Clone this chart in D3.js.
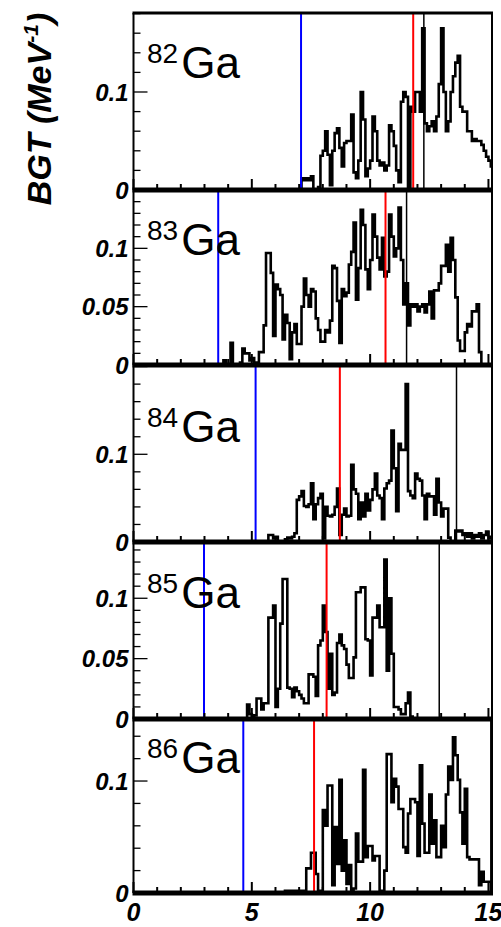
<!DOCTYPE html>
<html>
<head>
<meta charset="utf-8">
<script src="https://cdn.jsdelivr.net/npm/d3@7"></script>
<style>
body { margin: 0; background: #fff; }
text { font-family: "Liberation Sans", Arial, sans-serif; }
</style>
</head>
<body>
<script>
// B(GT) strength per 0.1 MeV bin, one array per isotope, starting at firstBin
var isotopes = ["82", "83", "84", "85", "86"];
var binWidth = 0.1;
var nBins = 152;
var firstBin = [71, 38, 57, 48, 64];
var bgt82 = [0.012,0.010,0.012,0.010,0.014,0,0,0.003,0.035,0.04,0.06,0.036,0.005,0.04,0.058,0.063,0.043,0.024,0.048,0.05,
  0.05,0.077,0.018,0.012,0.03,0.1,0.072,0.014,0.022,0.03,0.075,0.06,0.03,0.025,0.028,0.02,0.025,0.066,0.06,0.045,
  0.02,0.008,0.09,0.1,0.095,0.0,0.085,0.08,0.1,0.1,0.08,0.165,0.068,0.06,0.065,0.07,0.06,0.075,0.108,0.165,
  0.1,0.06,0.07,0.1,0.116,0.13,0.137,0.085,0.08,0.08,0.06,0.06,0.05,0.052,0.05,0.05,0.046,0.04,0.034,0.03,0.024];
var bgt83 = [0.004,0,0,0.019,0,0,0,0.002,0.014,0.01,0.01,0.004,0.006,0,0.002,0.011,0.011,0.034,0.096,0.096,
  0.079,0.025,0.069,0.065,0.06,0.022,0.043,0.036,0.005,0.028,0.035,0.018,0.018,0.05,0.074,0.06,0.05,0.065,0.063,0.04,
  0.03,0.02,0.02,0.03,0.028,0.038,0.085,0.083,0.055,0.019,0.065,0.059,0.062,0.086,0.097,0.122,0.056,0.083,0.133,0.12,
  0.082,0.065,0.09,0.129,0.11,0.092,0.082,0.109,0.076,0.08,0.129,0.11,0.093,0.1,0.135,0.09,0.052,0.07,0.034,0.052,
  0.05,0.052,0.046,0.05,0.052,0.045,0.052,0.063,0.04,0.064,0.064,0.07,0.085,0.085,0.103,0.08,0.109,0.09,0.058,0.021,
  0.012,0.012,0.028,0.035,0.033,0.046,0.046,0.052,0.011];
var bgt84 = [0.008,0.008,0.004,0.006,0,0,0,0.003,0.005,0.004,0.006,0.01,0.048,0.052,0.058,0.041,0.04,0.043,0.067,0.026,
  0.043,0.05,0.055,0.004,0.04,0.03,0.029,0.031,0.04,0.061,0.008,0.031,0.038,0.029,0.03,0.088,0.06,0.055,0.026,0.045,
  0.029,0.055,0.036,0.048,0.06,0.078,0.053,0.05,0.026,0.061,0.067,0.07,0.127,0.084,0.035,0.112,0.105,0.105,0.18,0.058,
  0.053,0.05,0.078,0.072,0.07,0.053,0.026,0.055,0.052,0.052,0.031,0.072,0.045,0.029,0.038,0.038,0.005,0,0,0.013,
  0.012,0.013,0.008,0.01,0.006,0.01,0.004,0.008,0.006,0.01,0.004,0.008,0.012,0.004,0.006];
var bgt85 = [0.012,0.004,0,0.003,0.017,0.017,0.008,0.013,0.013,0.084,0.084,0.094,0.01,0.025,0.079,0.116,0.116,0.026,0.025,0.018,
  0.026,0.023,0.02,0.017,0.013,0.013,0.037,0.037,0.035,0.019,0.061,0.065,0.094,0.072,0.025,0.054,0.02,0.022,0.063,0.07,
  0.061,0.058,0.045,0.034,0.034,0.051,0.105,0.105,0.109,0.109,0.066,0.065,0.036,0.084,0.084,0.094,0.076,0.076,0.132,0.04,
  0.1,0.054,0.01,0.01,0.008,0.004,0.004,0.013,0.022,0.002];
var bgt86 = [0.002,0,0.002,0.002,0,0.002,0.002,0.002,0,0.022,0.022,0.036,0.036,0.017,0.002,0.002,0.074,0.06,0.096,0.096,
  0.007,0.059,0.026,0.101,0.02,0.047,0.008,0.025,0.002,0.004,0.053,0.028,0.028,0.11,0.032,0.042,0.042,0.029,0.033,0.033,
  0.002,0.002,0.02,0.124,0.124,0.081,0.102,0.095,0.075,0.075,0.041,0.036,0.071,0.084,0.084,0.081,0.033,0.114,0.062,0.036,
  0.036,0.088,0.044,0.065,0.032,0.032,0.06,0.041,0.088,0.113,0.101,0.139,0.123,0.101,0.072,0.044,0.093,0.032,0.03,0.03,
  0.03,0.03,0.007,0.019,0.01,0.01,0.01];
var bgtAll = [bgt82, bgt83, bgt84, bgt85, bgt86];

// vertical markers (MeV): blue, red, black
var blueLine = [7.08, 3.58, 5.16, 2.98, 4.64];
var redLine = [11.82, 10.65, 8.72, 8.16, 7.63];
var blackLine = [12.27, 11.54, 13.65, 12.92, 15.1];

// axis settings per panel
var yMax = [0.1806, 0.15, 0.2018, 0.1466, 0.1554];
var yLabelStep = [0.1, 0.05, 0.1, 0.05, 0.1];
var yMinorStep = [0.02, 0.01, 0.02, 0.01, 0.02];
var xLabels = [0, 5, 10, 15];

var W = 501, H = 927;
var left = 133.5, right = 492;
var edges = [13, 190, 365, 542, 719, 893];
var labelBase = [78, 255, 442, 608, 773];

var svg = d3.select("body").append("svg")
    .attr("width", W)
    .attr("height", H);

var x = d3.scaleLinear().domain([0, 15.15]).range([left, right]);

var fmt = function(v) { return v === 0 ? "0" : String(+v.toFixed(2)); };

bgtAll.forEach(function(vals, p) {
  var top = edges[p], bottom = edges[p + 1];
  var y = d3.scaleLinear().domain([0, yMax[p]]).range([bottom, top]);
  var g = svg.append("g");

  g.append("clipPath").attr("id", "clip" + p)
    .append("rect").attr("x", left).attr("y", top).attr("width", right - left).attr("height", bottom - top);

  // full bin list
  var bins = [];
  for (var i = 0; i < nBins; i++) {
    var j = i - firstBin[p];
    bins.push([i * binWidth, (j >= 0 && j < vals.length) ? vals[j] : 0]);
  }
  bins.push([nBins * binWidth, bins[nBins - 1][1]]);

  var line = d3.line()
      .x(function(d) { return x(d[0]); })
      .y(function(d) { return y(d[1]); })
      .curve(d3.curveStepAfter);

  g.append("path")
    .attr("clip-path", "url(#clip" + p + ")")
    .attr("d", line(bins))
    .attr("fill", "none")
    .attr("stroke", "#000")
    .attr("stroke-width", 2.6);

  // marker lines
  [[blueLine[p], "#0000ff", 2], [redLine[p], "#ff0000", 2], [blackLine[p], "#000", 1.5]].forEach(function(m) {
    g.append("line")
      .attr("x1", x(m[0])).attr("x2", x(m[0]))
      .attr("y1", top).attr("y2", bottom)
      .attr("stroke", m[1]).attr("stroke-width", m[2]);
  });

  // y axis ticks
  var minor = d3.range(0, yMax[p] + 1e-9, yMinorStep[p]);
  g.selectAll(".ytick").data(minor).enter().append("line")
    .attr("x1", left)
    .attr("x2", function(d) {
      var isMajor = Math.abs(d / yLabelStep[p] - Math.round(d / yLabelStep[p])) < 1e-6;
      return left + (isMajor ? 14 : 7);
    })
    .attr("y1", function(d) { return y(d); })
    .attr("y2", function(d) { return y(d); })
    .attr("stroke", "#000").attr("stroke-width", 1.3);

  var labels = d3.range(0, yMax[p], yLabelStep[p]).filter(function(d) { return y(d) > top + 12; });
  g.selectAll(".ylab").data(labels).enter().append("text")
    .attr("x", left - 5)
    .attr("y", function(d) { return y(d); })
    .attr("dy", "0.36em")
    .attr("text-anchor", "end")
    .style("font-size", "24px")
    .style("font-weight", "bold")
    .style("font-style", "italic")
    .text(fmt);

  // x ticks on the bottom axis
  g.selectAll(".xtick").data(d3.range(0, 16)).enter().append("line")
    .attr("x1", function(d) { return x(d); })
    .attr("x2", function(d) { return x(d); })
    .attr("y1", bottom)
    .attr("y2", function(d) { return bottom - (d % 5 === 0 ? 11 : 6); })
    .attr("stroke", "#000").attr("stroke-width", 2);

  // frame
  g.append("line").attr("x1", left).attr("x2", left).attr("y1", top).attr("y2", bottom)
    .attr("stroke", "#000").attr("stroke-width", 2);
  g.append("line").attr("x1", right).attr("x2", right).attr("y1", top).attr("y2", bottom)
    .attr("stroke", "#000").attr("stroke-width", 2);

  // isotope label
  var t = g.append("text").attr("x", 147).attr("y", labelBase[p]);
  t.append("tspan").attr("dy", -15).style("font-size", "28px").text(isotopes[p]);
  t.append("tspan").attr("dy", 15).attr("dx", 3).style("font-size", "44px").text("Ga");
});

// thick horizontal axes, drawn last
edges.forEach(function(e, k) {
  svg.append("line")
    .attr("x1", left - 1).attr("x2", right + 1)
    .attr("y1", e).attr("y2", e)
    .attr("stroke", "#000").attr("stroke-width", k === 0 ? 3 : 5);
});

// x labels
svg.selectAll(".xlab").data(xLabels).enter().append("text")
  .attr("x", function(d) { return x(d); })
  .attr("y", 921)
  .attr("text-anchor", "middle")
  .style("font-size", "25px")
  .style("font-weight", "bold")
  .style("font-style", "italic")
  .text(function(d) { return d; });

// y title
var title = svg.append("text")
  .attr("transform", "translate(51,109) rotate(-90)")
  .attr("text-anchor", "middle")
  .style("font-size", "34px")
  .style("font-weight", "bold")
  .style("font-style", "italic");
title.append("tspan").text("BGT (MeV");
title.append("tspan").attr("dy", -13).style("font-size", "21px").text("-1");
title.append("tspan").attr("dy", 13).text(")");
</script>
</body>
</html>
